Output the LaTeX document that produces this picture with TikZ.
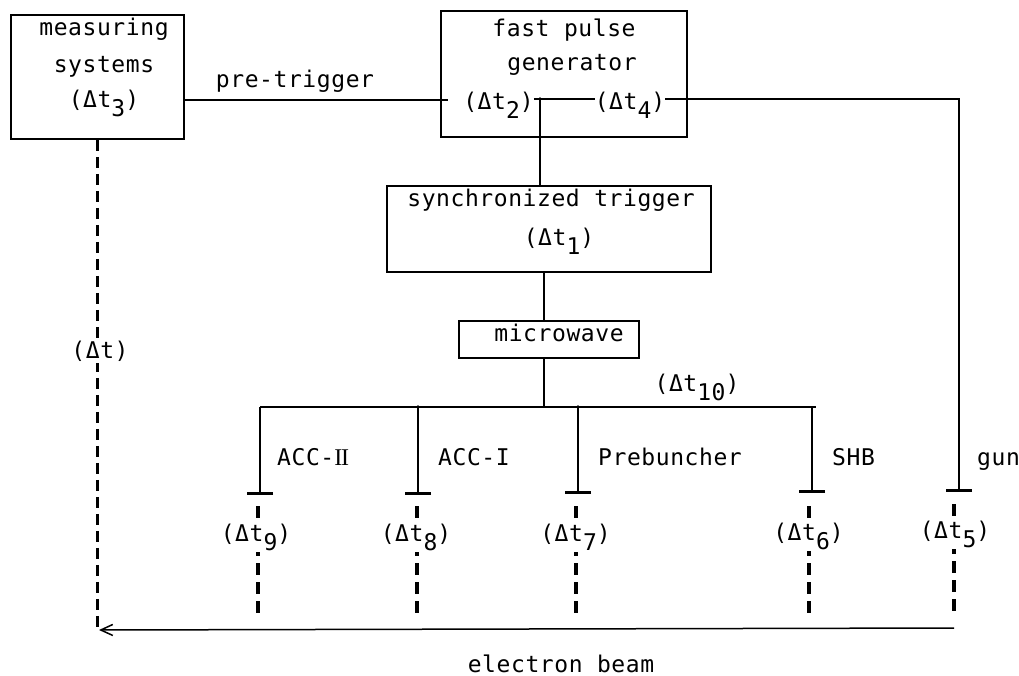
\documentclass[tikz,border=0pt]{standalone}
\usepackage{fontspec}
\usetikzlibrary{arrows.meta,calc}
\newfontfamily\tw{DejaVu Sans Mono}[LetterSpace=2.5]
\newfontfamily\lsf{Liberation Serif}
\newcommand\twf{\tw\fontsize{23pt}{27pt}\selectfont}
\newcommand\lo[1]{\raisebox{-9pt}{#1}}
\begin{document}
\begin{tikzpicture}[x=1pt,y=-1pt,
  box/.style={draw,line width=1.6pt,inner sep=0pt},
  lbl/.style={font=\twf,inner sep=0pt,anchor=base},
  dl/.style={font=\twf,inner sep=1.5pt,anchor=base,fill=white},
  conn/.style={line width=1.5pt},
  tbar/.style={line width=1.5pt,-{Bar[width=26pt,line width=3pt]}},
  dsh/.style={line width=3.2pt,dash pattern=on 12pt off 7pt},
  dshm/.style={line width=3pt,dash pattern=on 11pt off 6pt},
  beam/.style={line width=1.5pt,-{Straight Barb[length=12pt,width=11pt,line width=1.5pt]}}]
\useasboundingbox (0,0) rectangle (1019,676);
\fill[white] (0,0) rectangle (1019,676);
% boxes
\node[box,minimum width=173pt,minimum height=124pt] (ms) at (97.5,77) {};
\node[box,minimum width=246pt,minimum height=126pt] (fpg) at (564,74) {};
\node[box,minimum width=324pt,minimum height=86pt] (st) at (549,229) {};
\node[box,minimum width=180pt,minimum height=37pt] (mw) at (549,339.5) {};
% box texts
\node[lbl] (ms1) at (104,36) {measuring};
\node[lbl] (ms2) at (104,73) {systems};
\node[lbl] (ms3) at (104,108) {(Δt\lo{3})};
\node[lbl] (pt) at (295,88) {pre-trigger};
\node[lbl] (fp1) at (564,37) {fast pulse};
\node[lbl] (fp2) at (572,71) {generator};
\node[lbl] (d2) at (498.5,110) {(Δt\lo{2})};
\node[lbl] (d4) at (630,110) {(Δt\lo{4})};
\node[lbl] (st1) at (551,207) {synchronized trigger};
\node[lbl] (d1) at (559,246) {(Δt\lo{1})};
\node[lbl] (mw1) at (559,341) {microwave};
\node[lbl] (d10) at (697,391) {(Δt\lo{10})};
% coordinates
\coordinate (ptin) at (448,100);
\coordinate (j1) at (540,99);
\coordinate (gunTop) at (959,99);
\coordinate (gunT) at (959,492);
\coordinate (j3) at (544,407);
\coordinate (dL) at (260,407);
\coordinate (dR) at (816,407);
\coordinate (b9) at (260,495);
\coordinate (b8) at (418,495);
\coordinate (b7) at (578,494);
\coordinate (b6) at (812,493);
% connectors
\draw[conn] (ms.east |- ptin) -- (ptin);
\draw[conn] (d2.east |- j1) -- (d4.west |- j1);
\draw[conn] (j1) -- (j1 |- st.north);
\fill (j1) circle (1.8pt);
\draw[tbar] (d4.east |- j1) -- (gunTop) -- (gunT);
\draw[conn] (j3 |- st.south) -- (j3 |- mw.north);
\draw[conn] (j3 |- mw.south) -- (j3);
\draw[conn] (dL) -- (dR);
\draw[tbar] (dL) -- (b9);
\draw[tbar] (b8 |- dL) -- (b8);
\draw[tbar] (b7 |- dL) -- (b7);
\draw[tbar] (b6 |- dL) -- (b6);
\fill (b8 |- dL) circle (1.8pt);
\fill (b7 |- dL) circle (1.8pt);
% dashed beam-side lines
\coordinate (e9) at (258,506); \coordinate (f9) at (258,615);
\coordinate (e8) at (417,506); \coordinate (f8) at (417,615);
\coordinate (e7) at (576,506); \coordinate (f7) at (576,615);
\coordinate (e6) at (809,506); \coordinate (f6) at (809,613);
\coordinate (e5) at (954,504); \coordinate (f5) at (954,613);
\draw[dsh] (e9) -- (f9);
\draw[dsh] (e8) -- (f8);
\draw[dsh] (e7) -- (f7);
\draw[dsh] (e6) -- (f6);
\draw[dsh] (e5) -- (f5);
\coordinate (msEnd) at (97,632);
\draw[dshm] (ms.south -| msEnd) -- (msEnd);
% electron beam
\coordinate (ebR) at (954,628);
\coordinate (ebL) at (99,630);
\draw[beam] (ebR) -- (ebL);
% branch labels
\node[lbl,anchor=base west] (acc2) at (277,465) {ACC-{\lsf\fontsize{24pt}{27pt}\selectfont I\kern-1.2pt I}};
\node[lbl,anchor=base west] (acc1) at (438,465) {ACC-I};
\node[lbl,anchor=base west] (preb) at (598,465) {Prebuncher};
\node[lbl,anchor=base west] (shb) at (832,465) {SHB};
\node[lbl,anchor=base west] (gun) at (977,465) {gun};
\node[dl] (d9) at (256,541) {(Δt\lo{9})};
\node[dl] (d8) at (416,541) {(Δt\lo{8})};
\node[dl] (d7) at (575.5,541) {(Δt\lo{7})};
\node[dl] (d6) at (808.5,540) {(Δt\lo{6})};
\node[dl] (d5) at (955,538) {(Δt\lo{5})};
\node[dl] (dt) at (100,358) {(Δt)};
\node[lbl] (eb) at (561,672) {electron beam};
\end{tikzpicture}
\end{document}
